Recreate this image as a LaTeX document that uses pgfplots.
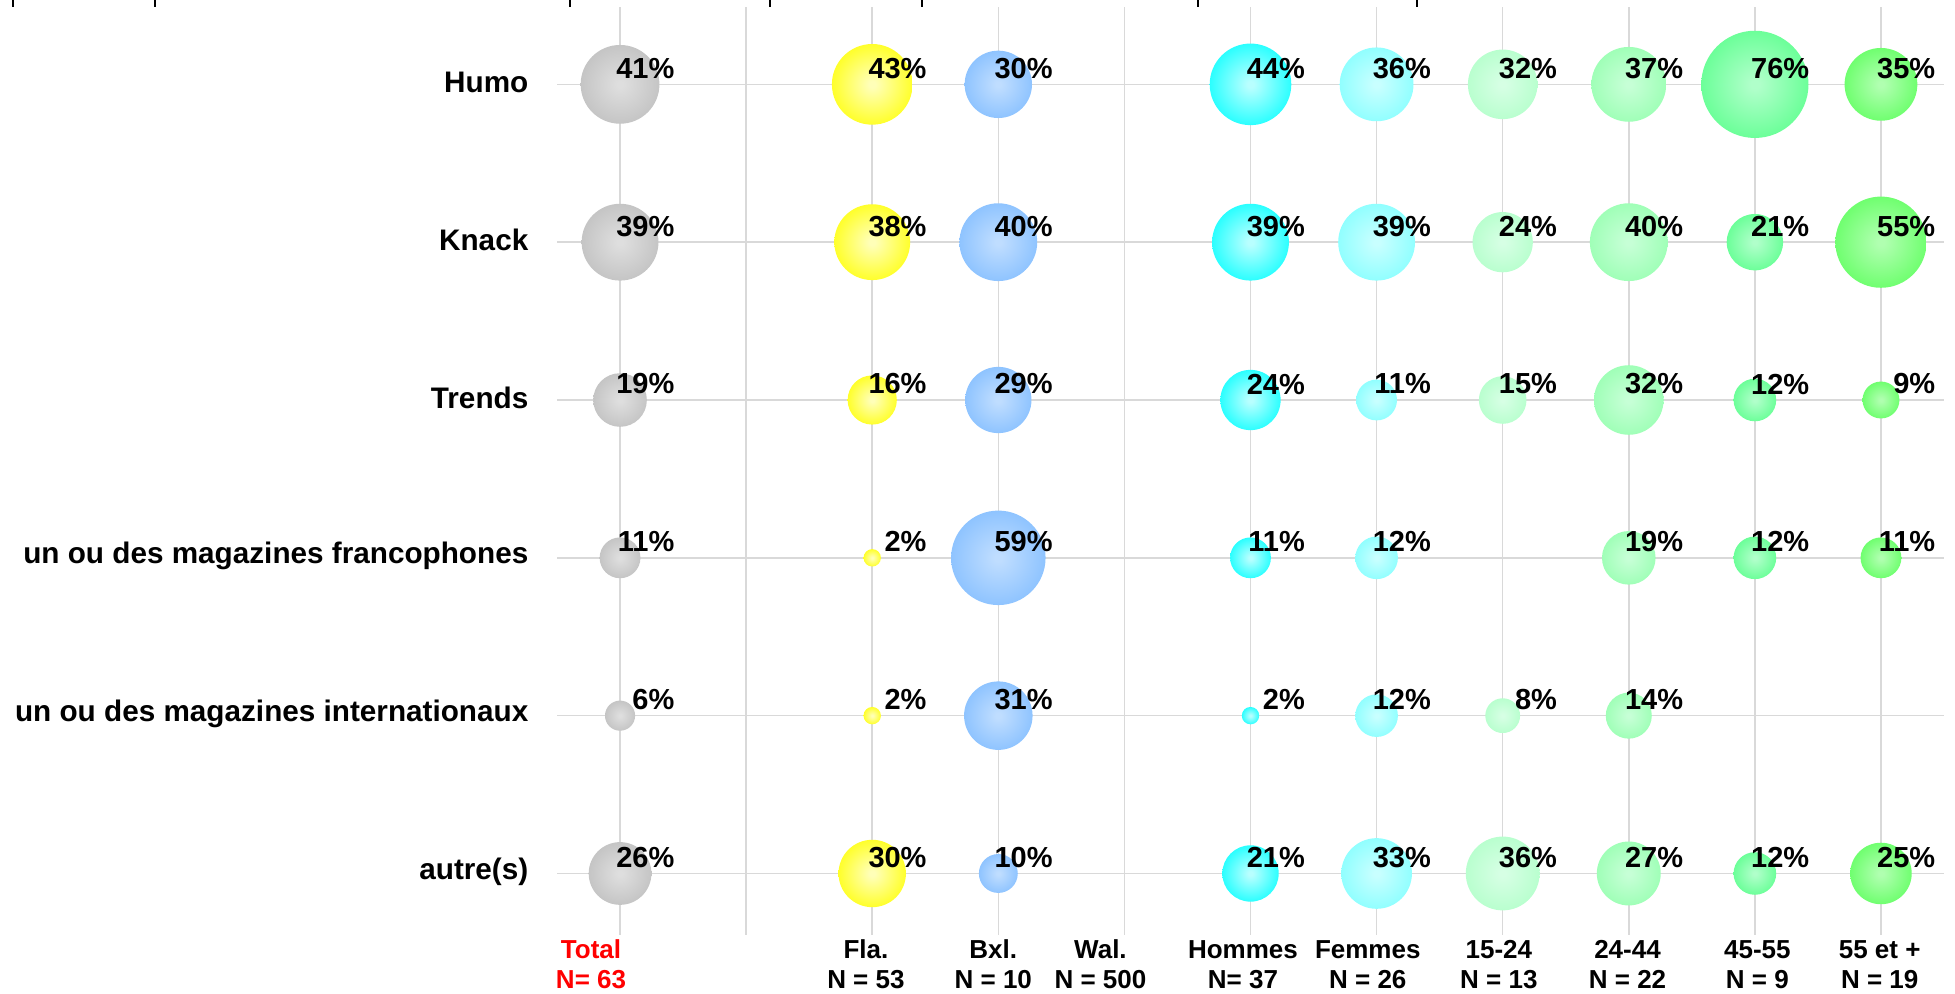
\documentclass[border=0pt]{standalone}
\usepackage{pgfplots}
\pgfplotsset{compat=1.18}
\usepackage{fontspec}
\setmainfont{Liberation Sans}
\pgfdeclareplotmark{nothing}{}
\colorlet{innerc}{white}
\colorlet{outerc}{gray}
\pgfdeclareradialshading[innerc,outerc]{bubble}{\pgfpoint{0bp}{0bp}}{color(0bp)=(innerc); color(2bp)=(innerc); color(32bp)=(outerc); color(50bp)=(outerc)}
\definecolor{c0i}{HTML}{DEDEDE}\definecolor{c0o}{HTML}{BDBDBD}
\definecolor{c2i}{HTML}{FFFFB8}\definecolor{c2o}{HTML}{FFFF00}
\definecolor{c3i}{HTML}{BFDDFF}\definecolor{c3o}{HTML}{80BCFF}
\definecolor{c5i}{HTML}{B8FFFF}\definecolor{c5o}{HTML}{00FFFF}
\definecolor{c6i}{HTML}{C8FFFF}\definecolor{c6o}{HTML}{80FFFF}
\definecolor{c7i}{HTML}{D6FFE4}\definecolor{c7o}{HTML}{B0FFC8}
\definecolor{c8i}{HTML}{C6FFD6}\definecolor{c8o}{HTML}{94FFAE}
\definecolor{c9i}{HTML}{B0FFCA}\definecolor{c9o}{HTML}{57FF8A}
\definecolor{c10i}{HTML}{B0FFB0}\definecolor{c10o}{HTML}{5CFF5C}
\definecolor{gridc}{HTML}{D9D9D9}
\newcommand\pctfont{\fontsize{8.25pt}{9pt}\selectfont\bfseries}
\newcommand\rowfont{\fontsize{8.45pt}{10pt}\selectfont\bfseries}
\newcommand\botfont{\fontsize{7.4pt}{8.54pt}\selectfont\bfseries}
\pgfplotsset{
  bubble/.style 2 args={
    scatter, only marks, mark=nothing,
    visualization depends on={\thisrow{v}\as\rawv},
    visualization depends on=value \thisrow{v}\as\labv,
    scatter/@pre marker code/.code={%
      \pgfmathsetmacro\rr{0.615*sqrt(\rawv)}%
      \colorlet{innerc}{#1}\colorlet{outerc}{#2}%
      \shade[shading=bubble, draw=none] (0pt,0pt) circle[radius=\rr mm];%
      \node[anchor=east, inner sep=0pt, font=\pctfont, text=black] at (5.5mm,1.6mm) {\labv\%};%
    },
    scatter/@post marker code/.code={},
  }
}
\begin{document}
\begin{tikzpicture}
\begin{axis}[
  at={(55.7mm,-0.7mm)}, anchor=north west,
  scale only axis, width=138.7mm, height=92.8mm,
  xmin=-0.5, xmax=10.5, ymin=-0.49, ymax=5.39, y dir=reverse,
  axis line style={draw=none},
  major tick length=0pt,
  tick style={draw=none},
  xtick={0,...,10}, xticklabels={},
  ytick={0,...,5},
  yticklabels={Humo, Knack, Trends, un ou des magazines francophones, un ou des magazines internationaux, autre(s)},
  yticklabel style={font=\rowfont, inner sep=0pt, anchor=east, xshift=-2.8mm, yshift=0.2mm},
  grid=major,
  major grid style={draw=gridc, line width=0.45pt},
  clip=false,
]
% Total
\addplot[bubble={c0i}{c0o}] table[row sep=\\] {x y v\\ 0 0 41\\ 0 1 39\\ 0 2 19\\ 0 3 11\\ 0 4 6\\ 0 5 26\\};
% Fla.
\addplot[bubble={c2i}{c2o}] table[row sep=\\] {x y v\\ 2 0 43\\ 2 1 38\\ 2 2 16\\ 2 3 2\\ 2 4 2\\ 2 5 30\\};
% Bxl.
\addplot[bubble={c3i}{c3o}] table[row sep=\\] {x y v\\ 3 0 30\\ 3 1 40\\ 3 2 29\\ 3 3 59\\ 3 4 31\\ 3 5 10\\};
% Hommes
\addplot[bubble={c5i}{c5o}] table[row sep=\\] {x y v\\ 5 0 44\\ 5 1 39\\ 5 2 24\\ 5 3 11\\ 5 4 2\\ 5 5 21\\};
% Femmes
\addplot[bubble={c6i}{c6o}] table[row sep=\\] {x y v\\ 6 0 36\\ 6 1 39\\ 6 2 11\\ 6 3 12\\ 6 4 12\\ 6 5 33\\};
% 15-24
\addplot[bubble={c7i}{c7o}] table[row sep=\\] {x y v\\ 7 0 32\\ 7 1 24\\ 7 2 15\\ 7 4 8\\ 7 5 36\\};
% 24-44
\addplot[bubble={c8i}{c8o}] table[row sep=\\] {x y v\\ 8 0 37\\ 8 1 40\\ 8 2 32\\ 8 3 19\\ 8 4 14\\ 8 5 27\\};
% 45-55
\addplot[bubble={c9i}{c9o}] table[row sep=\\] {x y v\\ 9 0 76\\ 9 1 21\\ 9 2 12\\ 9 3 12\\ 9 5 12\\};
% 55 et +
\addplot[bubble={c10i}{c10o}] table[row sep=\\] {x y v\\ 10 0 35\\ 10 1 55\\ 10 2 9\\ 10 3 11\\ 10 5 25\\};
% column labels
\begin{scope}[every node/.style={font=\botfont, align=center, inner sep=0pt}]
\node[text=red] at (axis cs:-0.23,5.575) {Total\\N= 63};
\node at (axis cs:1.95,5.575) {Fla.\\N = 53};
\node at (axis cs:2.96,5.575) {Bxl.\\N = 10};
\node at (axis cs:3.81,5.575) {Wal.\\N = 500};
\node at (axis cs:4.94,5.575) {Hommes\\N= 37};
\node at (axis cs:5.93,5.575) {Femmes\\N = 26};
\node at (axis cs:6.97,5.575) {15-24\\N = 13};
\node at (axis cs:7.99,5.575) {24-44\\N = 22};
\node at (axis cs:9.02,5.575) {45-55\\N = 9};
\node at (axis cs:9.99,5.575) {55 et +\\N = 19};
\end{scope}
\end{axis}
% remnants of ticks at the top edge
\foreach \xx in {1.3,15.5,57.0,77.0,92.2,119.8,141.7}
  \draw[black, line width=0.2mm] (\xx mm,0) -- (\xx mm,-0.7mm);
\pgfresetboundingbox
\path[use as bounding box] (0,0) rectangle (195.5mm,-99.3mm);
\end{tikzpicture}
\end{document}
